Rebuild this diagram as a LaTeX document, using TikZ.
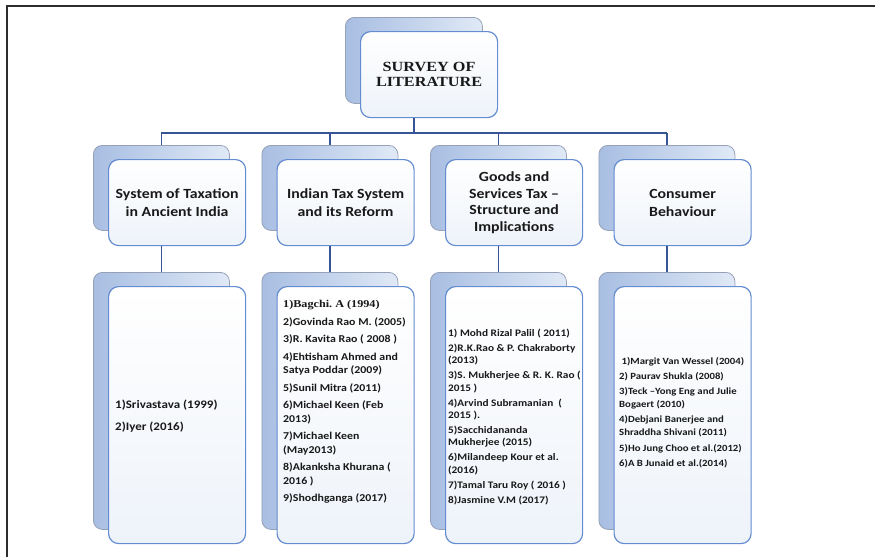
\documentclass[tikz,border=0pt]{standalone}
\usepackage{fontspec}
\setmainfont[FakeStretch=1.13]{Carlito}
\newfontfamily\timesfont[FakeStretch=1.16]{Liberation Serif}
\frenchspacing
\definecolor{frameline}{RGB}{45,45,45}
\definecolor{connline}{RGB}{55,85,150}
\definecolor{frontline}{RGB}{100,140,208}
\definecolor{frontlow}{RGB}{238,243,250}
\definecolor{backline}{RGB}{150,160,182}
\definecolor{backdark}{RGB}{168,190,226}
\definecolor{backlight}{RGB}{224,233,246}
\definecolor{inktext}{RGB}{25,25,25}
\begin{document}
\begin{tikzpicture}[x=1pt,y=-1pt,
  backbox/.style={draw=backline, line width=0.8pt, rounded corners=9pt,
    left color=backdark, right color=backlight, anchor=north west, inner sep=0pt,
    minimum width=136pt},
  frontbox/.style={draw=frontline, line width=1.2pt, rounded corners=10pt,
    top color=white, bottom color=frontlow, anchor=north west, inner sep=0pt,
    minimum width=137pt, text=inktext},
  headbox/.style={minimum height=86pt},
  listbox/.style={minimum height=257pt},
  conn/.style={draw=connline, line width=1.5pt},
  heading/.style={align=center, font=\bfseries\fontsize{14}{18}\selectfont},
  listtext/.style={anchor=north west, inner sep=0pt, align=left, text=inktext}]
\useasboundingbox (0,0) rectangle (875,557);

% page frame
\draw[frameline, line width=2pt] (875,6) -- (7,6) -- (7,557);

% root
\node[backbox, headbox, minimum width=137pt] (tb) at (345,17) {};
\node[frontbox, headbox, align=center,
      font=\timesfont\bfseries\fontsize{14}{15.5}\selectfont] (tf) at (360,31)
      {SURVEY OF\\LITERATURE};

% branch level boxes
\foreach \i/\x in {1/93, 2/261.5, 3/430, 4/598.5} {
  \node[backbox, headbox, minimum height=85pt] (b\i) at (\x,145) {};
  \node[backbox, listbox] (c\i) at (\x,272) {};
}
\node[frontbox, headbox, heading] (f1) at (108,159) {System of Taxation\\in Ancient India};
\node[frontbox, headbox, heading] (f2) at (276.5,159) {Indian Tax System\\and its Reform};
\node[frontbox, headbox, heading, font=\bfseries\fontsize{14}{16.7}\selectfont] (f3) at (445,159)
  {Goods and\\Services Tax --\\Structure and\\Implications};
\node[frontbox, headbox, heading] (f4) at (613.5,159) {Consumer\\Behaviour};

\foreach \i/\x in {1/108, 2/276.5, 3/445, 4/613.5}
  \node[frontbox, listbox] (g\i) at (\x,286) {};

% connectors
\coordinate (bar) at (0,133);
\draw[conn] (tb |- tf.south) -- (tb |- bar);
\draw[conn] (b1 |- bar) -- (b4 |- bar);
\foreach \i in {1,...,4} {
  \draw[conn] (b\i |- bar) -- (b\i.north);
  \draw[conn] (b\i |- f\i.south) -- (c\i.north);
}

% reference lists
\node[listtext, font=\bfseries\fontsize{11.5}{21.7}\selectfont] (l1) at (115,400)
  {1)Srivastava (1999)\\2)Iyer (2016)};

\node[listtext, font=\bfseries\fontsize{10.5}{13.5}\selectfont] (l2) at (283,300.5)
  {{\timesfont 1)Bagchi. A (1994)}\\[4pt]
   2)Govinda Rao M. (2005)\\[4pt]
   3)R. Kavita Rao ( 2008 )\\[4pt]
   4)Ehtisham Ahmed and\\
   Satya Poddar (2009)\\[4pt]
   5)Sunil Mitra (2011)\\[4pt]
   6)Michael Keen (Feb\\
   2013)\\[4pt]
   7)Michael Keen\\
   (May2013)\\[4pt]
   8)Akanksha Khurana (\\
   2016 )\\[4pt]
   9)Shodhganga (2017)};

\node[listtext, font=\bfseries\fontsize{10}{12.3}\selectfont] (l3) at (448,329)
  {1) Mohd Rizal Palil ( 2011)\\[2.7pt]
   2)R.K.Rao \& P. Chakraborty\\
   (2013)\\[2.7pt]
   3)S. Mukherjee \& R. K. Rao (\\
   2015 )\\[2.7pt]
   4)Arvind Subramanian~~(\\
   2015 ).\\[2.7pt]
   5)Sacchidananda\\
   Mukherjee (2015)\\[2.7pt]
   6)Milandeep Kour et al.\\
   (2016)\\[2.7pt]
   7)Tamal Taru Roy ( 2016 )\\[2.7pt]
   8)Jasmine V.M (2017)};

\node[listtext, font=\bfseries\fontsize{9.5}{13}\selectfont] (l4) at (619,357)
  {~1)Margit Van Wessel (2004)\\[2.2pt]
   2) Paurav Shukla (2008)\\[2.2pt]
   3)Teck --Yong Eng and Julie\\
   Bogaert (2010)\\[2.2pt]
   4)Debjani Banerjee and\\
   Shraddha Shivani (2011)\\[2.2pt]
   5)Ho Jung Choo et al.(2012)\\[2.2pt]
   6)A B Junaid et al.(2014)};
\end{tikzpicture}
\end{document}
